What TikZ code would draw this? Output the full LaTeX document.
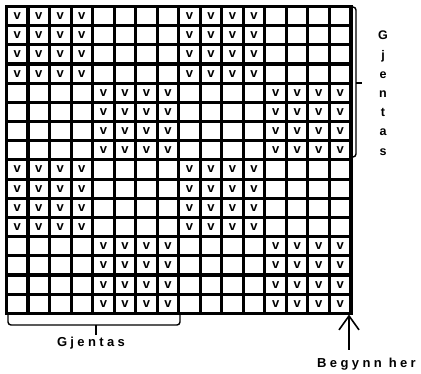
\documentclass[tikz,border=0pt]{standalone}
\usepackage{fontspec}
\setmainfont{Liberation Sans}
\newfontfamily\spacedfont[LetterSpace=26]{Liberation Sans}
\usetikzlibrary{arrows.meta}
\tikzset{
  gridline/.style={line width=3.1pt, line cap=rect},
  vmark/.style={inner sep=0pt, font=\bfseries\fontsize{13}{13}\selectfont},
  bracket/.style={line width=1.4pt, rounded corners=3pt},
  label/.style={inner sep=0pt, font=\spacedfont\bfseries\fontsize{13}{13}\selectfont},
  startarrow/.style={line width=1.6pt, -{Straight Barb[length=14pt,width=20pt,line width=1.6pt]}}
}
\begin{document}
\begin{tikzpicture}[x=1pt,y=-1pt]
\useasboundingbox[fill=white] (0,0) rectangle (421,374);
\def\cw{21.53}\def\ch{19.18}
% v marks
\foreach \r in {1,...,16}{
  \foreach \c in {1,...,16}{
    \pgfmathtruncatemacro\rb{mod(int((\r-1)/4),2)}
    \pgfmathtruncatemacro\cb{mod(int((\c-1)/4),2)}
    \ifnum\rb=\cb
      \node[vmark] (v-\r-\c) at ({6.5+(\c-0.5)*\cw},{6.5+(\r-0.5)*\ch}) {v};
    \fi
  }
}
% grid
\foreach \i in {0,...,16}{
  \draw[gridline] ({6.5+\i*\cw},6.5) -- ({6.5+\i*\cw},313.3);
  \draw[gridline] (6.5,{6.5+\i*\ch}) -- (351,{6.5+\i*\ch});
}
% right bracket
\draw[bracket] (351.5,7) -| (356,157) -- (351.5,157);
\draw[line width=1.4pt] (356,83) -- (362,83);
\node[inner sep=0pt, anchor=north, align=center,
      font=\bfseries\fontsize{12.5}{19.2}\selectfont] (gjv) at (383,31)
      {G\\j\\e\\n\\t\\a\\s};
% bottom bracket
\draw[bracket] (8,314.5) |- (180,325) -- (180,314.5);
\draw[line width=1.4pt] (96,325) -- (96,335);
\node[label, anchor=base] (gjh) at (91,347) {Gjentas};
% start arrow
\coordinate (corner) at (349,314.5);
\coordinate (tail) at (349,350);
\draw[startarrow] (tail) -- (corner);
\node[label, anchor=base] (beg) at (366.5,368) {Begynn her};
\end{tikzpicture}
\end{document}
